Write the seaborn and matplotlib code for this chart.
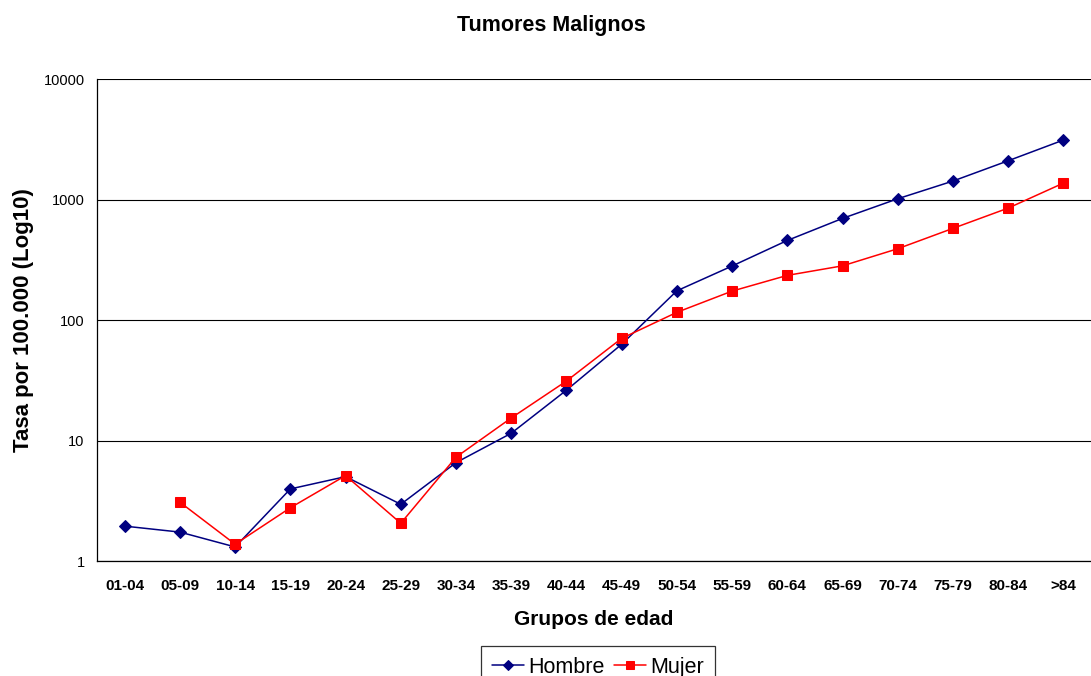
import matplotlib
matplotlib.use("Agg")
import matplotlib.pyplot as plt
import matplotlib.ticker as mticker
import numpy as np
import pandas as pd
import seaborn as sns

grupos = ["01-04", "05-09", "10-14", "15-19", "20-24", "25-29", "30-34", "35-39", "40-44",
          "45-49", "50-54", "55-59", "60-64", "65-69", "70-74", "75-79", "80-84", ">84"]
hombre = [1.95, 1.74, 1.31, 3.97, 5.02, 2.96, 6.56, 11.5, 26.2,
          63, 175, 281, 458, 698, 1016, 1425, 2100, 3120]
mujer = [np.nan, 3.08, 1.38, 2.77, 5.12, 2.06, 7.28, 15.4, 31.2,
         70.5, 116, 174, 235, 282, 391, 577, 850, 1370]

sns.set_style("white")
plt.rcParams["font.family"] = ["Liberation Sans", "DejaVu Sans"]
plt.rcParams.update({"text.color": "black", "axes.labelcolor": "black",
                     "xtick.color": "black", "ytick.color": "black"})

pos = np.arange(len(grupos))
df = pd.DataFrame({"pos": pos, "Hombre": hombre, "Mujer": mujer})

fig = plt.figure(figsize=(10.91, 6.76), dpi=100)
ax = fig.add_axes([0.089, 0.170, 0.911, 0.713])

sns.lineplot(data=df, x="pos", y="Hombre", ax=ax, color="#000080", marker="D",
             markersize=6, markeredgecolor="#000080", linewidth=1.1, label="Hombre")
sns.lineplot(data=df.dropna(), x="pos", y="Mujer", ax=ax, color="#FF0000", marker="s",
             markersize=7, markeredgecolor="#FF0000", linewidth=1.1, label="Mujer")

ax.set_yscale("log")
ax.set_ylim(1, 10000)
ax.set_xlim(-0.5, len(grupos) - 0.5)
ax.yaxis.set_major_locator(mticker.FixedLocator([1, 10, 100, 1000, 10000]))
ax.yaxis.set_major_formatter(mticker.FuncFormatter(lambda v, p: f"{v:g}"))
ax.yaxis.set_minor_locator(mticker.NullLocator())
ax.grid(axis="y", color="black", linewidth=0.8)
ax.set_axisbelow(True)

ax.set_xticks(pos)
ax.set_xticklabels(grupos, fontsize=11, fontweight="bold")
ax.set_xticks(np.arange(-0.5, len(grupos)), minor=True)
ax.tick_params(axis="x", which="major", length=0, pad=13)
ax.tick_params(axis="x", which="minor", length=5, width=0.8, color="black", direction="out")
ax.tick_params(axis="y", length=6, width=0.8, color="black", direction="out", labelsize=10.5, pad=3)

for s in ["top", "right"]:
    ax.spines[s].set_visible(False)
for s in ["left", "bottom"]:
    ax.spines[s].set_color("black")
    ax.spines[s].set_linewidth(0.9)

ax.set_xlabel("Grupos de edad", fontsize=15, fontweight="bold", labelpad=12)
ax.set_ylabel("Tasa por 100.000 (Log10)", fontsize=16, fontweight="bold", labelpad=7)
fig.text(551 / 1091, 1 - 26 / 676, "Tumores Malignos", fontsize=15.5, fontweight="bold",
         ha="center", va="center")

leg = ax.legend(loc="upper center", bbox_to_anchor=(0.504, -0.176), ncol=2, fontsize=15.5,
                frameon=True, fancybox=False, edgecolor="black", borderpad=0.5,
                handlelength=1.5, handletextpad=0.2, columnspacing=0.4, borderaxespad=0,
                markerscale=0.8)
leg.get_frame().set_linewidth(0.9)

fig.savefig("out.png", dpi=100)
